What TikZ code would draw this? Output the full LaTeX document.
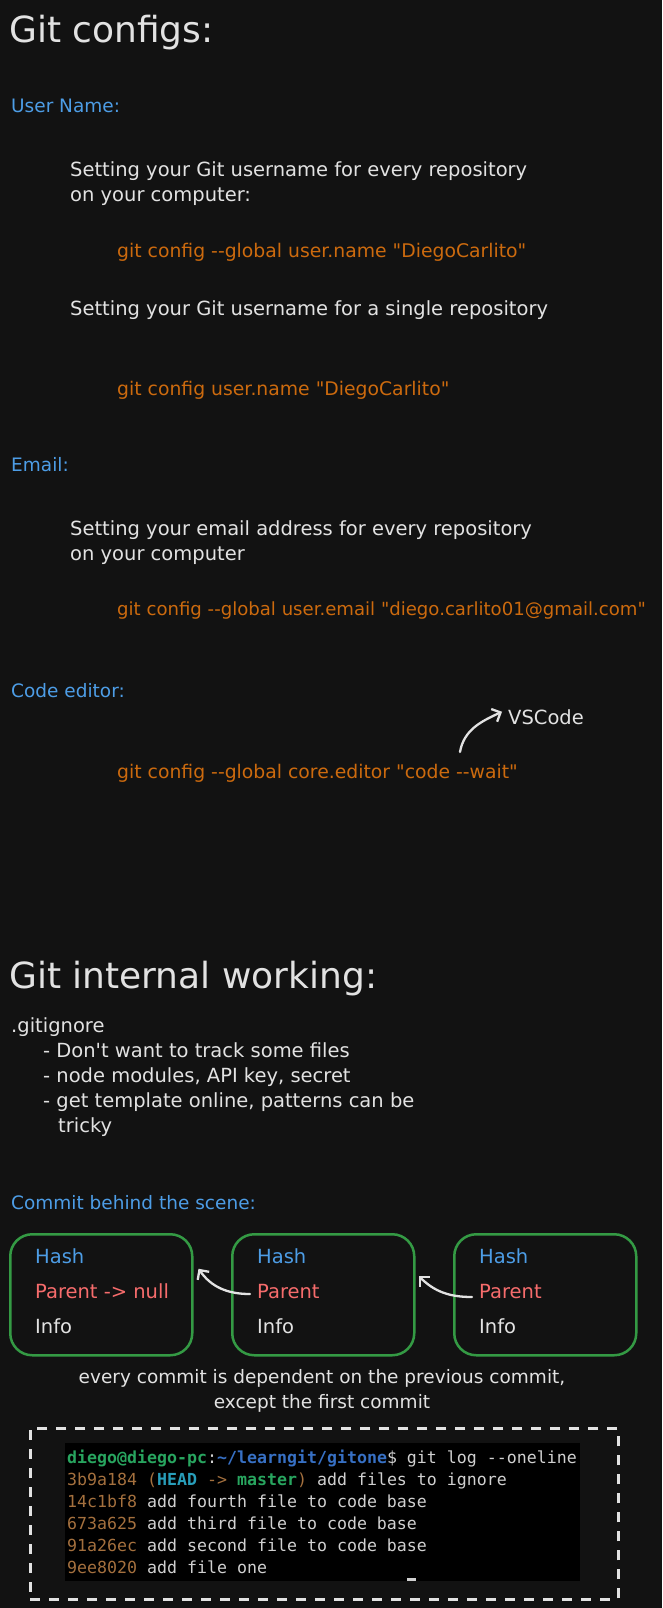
\documentclass[tikz,border=0pt]{standalone}
\usepackage{fontspec}
\newfontfamily\sketchfont{DejaVu Sans}
\setmonofont{DejaVu Sans Mono}
\usepackage{tikz}
\usetikzlibrary{arrows.meta, positioning}

\definecolor{bgdark}{RGB}{18,18,18}
\definecolor{inkwhite}{RGB}{226,226,226}
\definecolor{inkblue}{RGB}{77,157,230}
\definecolor{inkorange}{RGB}{204,106,14}
\definecolor{inkred}{RGB}{246,108,108}
\definecolor{boxgreen}{RGB}{52,154,68}
\definecolor{termgray}{RGB}{208,208,208}
\definecolor{termgreen}{RGB}{40,165,95}
\definecolor{termblue}{RGB}{55,112,196}
\definecolor{termcyan}{RGB}{40,158,186}
\definecolor{termbrown}{RGB}{164,112,62}

\newcommand{\ddash}{-\kern0pt-}

\tikzstyle{heading} = [anchor=base west, inner sep=0pt, text=inkwhite,
font=\sketchfont\fontsize{36}{40}\selectfont]
\tikzstyle{subhead} = [anchor=base west, inner sep=0pt, text=inkblue, font=\sketchfont\fontsize{18.5}{22}\selectfont]
\tikzstyle{body} = [anchor=base west, inner sep=0pt, text=inkwhite, font=\sketchfont\fontsize{19.5}{25}\selectfont]
\tikzstyle{cmd} = [anchor=base west, inner sep=0pt, text=inkorange, font=\sketchfont\fontsize{18.8}{25}\selectfont]
\tikzstyle{commit} = [rectangle, rounded corners=22pt, minimum width=182pt, minimum
height=121pt, draw=boxgreen, line width=2.5pt, anchor=north west]
\tikzstyle{field} = [anchor=base west, inner sep=0pt, font=\sketchfont\fontsize{19.5}{25}\selectfont]
\tikzstyle{arrow} = [line width=2.3pt, draw=inkwhite, line cap=round, -{Straight Barb[length=7pt, width=14pt]}]
\tikzstyle{dashframe} = [rectangle, draw=inkwhite, line width=2.5pt, dash pattern=on 10pt off 9pt,
minimum width=588pt, minimum height=171pt, anchor=north west]
\tikzstyle{term} = [anchor=base west, inner sep=0pt, text=termgray, font=\ttfamily\fontsize{16.6}{22}\selectfont]

\begin{document}
\begin{tikzpicture}[x=1pt, y=1pt]

      % \draw[help lines] (0,0) grid (662,-1608);
      \fill[bgdark] (0,0) rectangle (662,-1608);
      \useasboundingbox (0,0) rectangle (662,-1608);

      \node (cfg) [heading] at (9,-43) {Git configs:};

      % user name
      \node (uname) [subhead] at (11,-113) {User Name:};
      \node (un1) [body] at (70,-177) {Setting your Git username for every repository};
      \node (un1b) [body] at ([yshift=-25pt]un1.base west) {on your computer:};
      \node (uncmd1) [cmd] at (117,-257) {git config \ddash global user.name "DiegoCarlito"};
      \node (un2) [body] at (70,-315) {Setting your Git username for a single repository};
      \node (uncmd2) [cmd] at (117,-395) {git config user.name "DiegoCarlito"};

      % email
      \node (email) [subhead] at (11,-471) {Email:};
      \node (em1) [body] at (70,-535) {Setting your email address for every repository};
      \node (em1b) [body] at ([yshift=-25pt]em1.base west) {on your computer};
      \node (emcmd) [cmd, font=\sketchfont\fontsize{18.1}{25}\selectfont] at (117,-615) {git config \ddash global user.email "diego.carlito01@gmail.com"};

      % editor
      \node (editor) [subhead] at (11,-697) {Code editor:};
      \node (vs) [body] at (508,-724) {VSCode};
      \node (edcmd) [cmd] at (117,-778) {git config \ddash global core.editor "code \ddash wait"};
      \coordinate (vstail) at (460,-752);
      \draw [arrow] (vstail) to[out=80, in=205] ([xshift=-6pt, yshift=5pt]vs.west);

      \node (inner) [heading] at (9,-988) {Git internal working:};

      \node (gi) [body] at (11,-1032) {.gitignore};
      \node (gi1) [body] at (43,-1057) {- Don't want to track some files};
      \node (gi2) [body] at ([yshift=-25pt]gi1.base west) {- node modules, API key, secret};
      \node (gi3) [body] at ([yshift=-25pt]gi2.base west) {- get template online, patterns can be};
      \node (gi3b) [body] at (58,-1132) {tricky};

      % commits
      \node (cbts) [subhead] at (11,-1209) {Commit behind the scene:};

      \node (c1) [commit] at (9,-1233) {};
      \node (c2) [commit] at (231,-1233) {};
      \node (c3) [commit] at (453,-1233) {};

      \node (h1) [field, text=inkblue] at ([xshift=26pt, yshift=-30pt]c1.north west) {Hash};
      \node (p1) [field, text=inkred] at ([yshift=-35pt]h1.base west) {Parent -> null};
      \node (i1) [field, text=inkwhite] at ([yshift=-35pt]p1.base west) {Info};

      \node (h2) [field, text=inkblue] at ([xshift=26pt, yshift=-30pt]c2.north west) {Hash};
      \node (p2) [field, text=inkred] at ([yshift=-35pt]h2.base west) {Parent};
      \node (i2) [field, text=inkwhite] at ([yshift=-35pt]p2.base west) {Info};

      \node (h3) [field, text=inkblue] at ([xshift=26pt, yshift=-30pt]c3.north west) {Hash};
      \node (p3) [field, text=inkred] at ([yshift=-35pt]h3.base west) {Parent};
      \node (i3) [field, text=inkwhite] at ([yshift=-35pt]p3.base west) {Info};

      \draw [arrow] ([xshift=-7pt, yshift=4pt]p2.base west) to[out=180, in=-55] ([xshift=5pt, yshift=26pt]c1.east);
      \draw [arrow] ([xshift=-7pt, yshift=1pt]p3.base west) to[out=180, in=-45] ([xshift=3pt, yshift=19pt]c2.east);

      \node (note1) [body, anchor=base, font=\sketchfont\fontsize{18.5}{25}\selectfont] at (322,-1383) {every commit is dependent on the previous commit,};
      \node (note2) [body, anchor=base, font=\sketchfont\fontsize{18.5}{25}\selectfont] at ([yshift=-25pt]note1.base) {except the first commit};

      % git log screenshot
      \node (frame) [dashframe] at (29,-1427) {};
      \node (shell) [fill=black, inner sep=0pt, minimum width=515pt, minimum height=138pt, anchor=north west] at (65,-1443) {};

      \node (l0) [term] at ([xshift=2pt, yshift=-20pt]shell.north west) {{\bfseries\color{termgreen}diego@diego-pc}:{\bfseries\color{termblue}\textasciitilde/learngit/gitone}\$ git log \ddash oneline};
      \node (l1) [term] at ([yshift=-22pt]l0.base west) {{\color{termbrown}3b9a184 (}{\bfseries\color{termcyan}HEAD}{\color{termbrown}\ ->\ }{\bfseries\color{termgreen}master}{\color{termbrown})} add files to ignore};
      \node (l2) [term] at ([yshift=-22pt]l1.base west) {{\color{termbrown}14c1bf8} add fourth file to code base};
      \node (l3) [term] at ([yshift=-22pt]l2.base west) {{\color{termbrown}673a625} add third file to code base};
      \node (l4) [term] at ([yshift=-22pt]l3.base west) {{\color{termbrown}91a26ec} add second file to code base};
      \node (l5) [term] at ([yshift=-22pt]l4.base west) {{\color{termbrown}9ee8020} add file one};

      % cursor
      \fill[termgray] ([xshift=342pt, yshift=3pt]shell.south west) rectangle ([xshift=351pt]shell.south west);

  \end{tikzpicture}
\end{document}
